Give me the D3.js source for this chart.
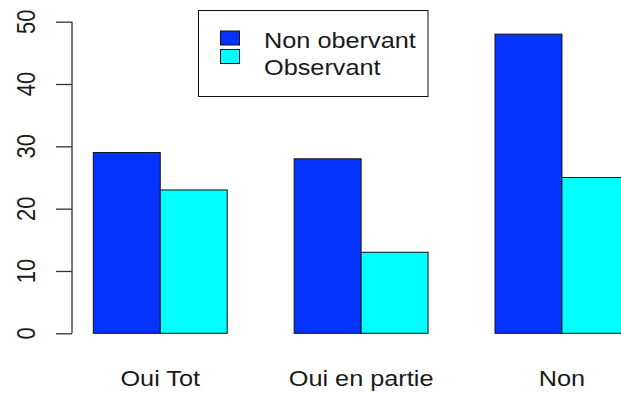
<!DOCTYPE html>
<html>
<head>
<meta charset="utf-8">
<script src="https://cdn.jsdelivr.net/npm/d3@7"></script>
<style>
  html, body { margin: 0; padding: 0; background: #fff; }
  svg { display: block; }
  text { font-family: "Liberation Sans", Arial, sans-serif; fill: #1a1a1a; }
</style>
</head>
<body>
<svg id="chart" width="621" height="394"></svg>
<script>
// Grouped bar data
const categories = ["Oui Tot", "Oui en partie", "Non"];
const seriesNames = ["Non obervant", "Observant"];
const nonObservant = [29, 28, 48];
const observant = [23, 13, 25];
const yTicks = [0, 10, 20, 30, 40, 50];
const colors = ["#0433ff", "#00ffff"];

const series = [nonObservant, observant];

const svg = d3.select("#chart");

// The device is wider than tall in its text: glyphs are stretched horizontally
const FS = 22, SX = 1.15;

// Vertical scale: 0..50
const y = d3.scaleLinear().domain([0, 50]).range([333.3, 21.7]);

// Horizontal layout: each group holds 2 bars, groups separated by one bar width
const barW = 66.95;
const x0 = 93.3;
const groupStart = c => x0 + categories.indexOf(c) * barW * 3;
const inner = d3.scaleBand().domain(seriesNames).range([0, barW * 2]);

const g = svg.append("g");

categories.forEach((c, i) => {
  seriesNames.forEach((s, j) => {
    const v = series[j][i];
    g.append("rect")
      .attr("x", groupStart(c) + inner(s))
      .attr("y", y(v))
      .attr("width", inner.bandwidth())
      .attr("height", y(0) - y(v))
      .attr("fill", colors[j])
      .attr("stroke", "#111")
      .attr("stroke-width", 1);
  });
  svg.append("text")
    .attr("transform", `translate(${groupStart(c) + barW},385.5) scale(${SX},1)`)
    .attr("text-anchor", "middle")
    .attr("font-size", FS)
    .text(c);
});

// Y axis
const axis = d3.axisLeft(y).tickValues(yTicks).tickSize(16).tickFormat("");
const ax = svg.append("g").attr("transform", "translate(72,0)").call(axis);
ax.select(".domain").attr("stroke", "#333").attr("stroke-width", 1.3)
  .attr("d", `M0,${y(0)}V${y(50)}`);
ax.selectAll(".tick line").attr("stroke", "#333").attr("stroke-width", 1.3);

yTicks.forEach(t => {
  svg.append("text")
    .attr("transform", `translate(35,${y(t)}) scale(${SX},1) rotate(-90)`)
    .attr("text-anchor", "middle")
    .attr("font-size", FS)
    .text(t);
});

// Legend
svg.append("rect")
  .attr("x", 198.5).attr("y", 10.5)
  .attr("width", 229.5).attr("height", 86)
  .attr("fill", "#fff").attr("stroke", "#111").attr("stroke-width", 1);

seriesNames.forEach((s, j) => {
  svg.append("rect")
    .attr("x", 220.5).attr("y", 31 + j * 18.5)
    .attr("width", 19).attr("height", 14)
    .attr("fill", colors[j]).attr("stroke", "#111").attr("stroke-width", 1);
  svg.append("text")
    .attr("transform", `translate(264,${47.5 + j * 27.5}) scale(${SX},1)`)
    .attr("font-size", FS)
    .text(s);
});
</script>
</body>
</html>
